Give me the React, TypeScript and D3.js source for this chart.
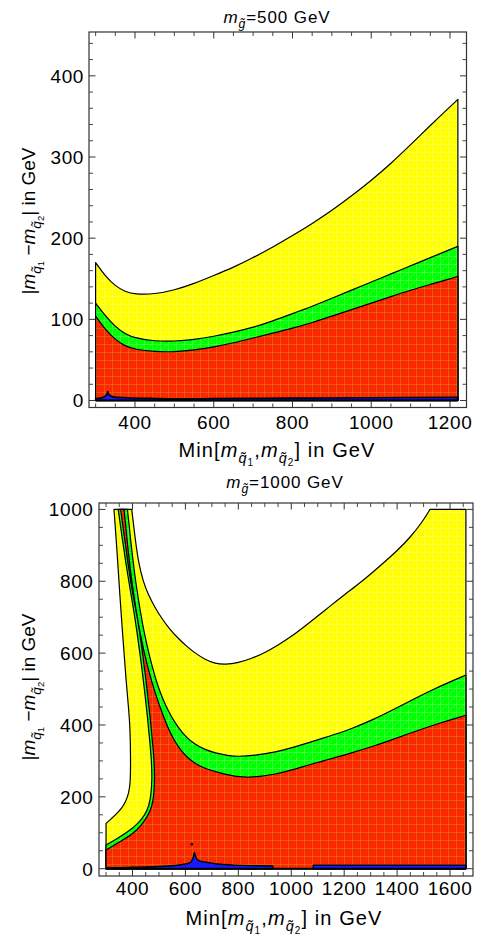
import React from 'react';
import * as d3 from 'd3';

const FONT = "'Liberation Sans', Arial, Helvetica, sans-serif";

// ---------------- Panel 1 : m_gluino = 500 GeV ----------------
const p1TitleValue = '=500 GeV';
const p1X = [300, 325, 350, 375, 400, 450, 500, 550, 600, 650, 700, 750, 800, 850, 900, 950, 1000, 1050, 1100, 1150, 1200, 1220];
const p1Yellow = [170, 153, 141, 134, 131, 131, 136, 144, 154, 164, 176, 189, 203, 218, 234, 252, 271, 292, 315, 339, 362, 371];
const p1Green = [120, 104, 91, 82, 77, 73, 73, 75, 79, 84, 90, 98, 107, 116, 126, 136, 146, 156, 166, 176, 186, 190];
const p1Red = [104, 87, 75, 67, 63, 60, 60, 62, 66, 71, 77, 83, 89, 96, 104, 112, 120, 128, 136, 143, 150, 153];
const p1BlueX = [300, 320, 328, 331, 334, 345, 380, 450, 500, 600, 800, 1000, 1220];
const p1BlueV = [2.5, 4, 7, 11, 7, 4.5, 3.5, 2.5, 2, 2.5, 3, 3.5, 4];
const p1XTicks = [400, 600, 800, 1000, 1200];
const p1YTicks = [0, 100, 200, 300, 400];

// ---------------- Panel 2 : m_gluino = 1000 GeV ----------------
const p2TitleValue = '=1000 GeV';
const p2XMin = 300;
const p2XMax = 1660;
const p2VMax = 1000;
// outer-left yellow boundary (bottom -> top)
const p2YellowLeftX = [300, 321, 340, 359, 374, 386, 392, 393, 391, 386, 376, 364, 352, 342, 330];
const p2YellowLeftV = [126, 140, 153, 168, 186, 210, 240, 300, 391, 440, 520, 640, 762, 880, 1000];
// upper yellow boundary (U-shaped, left -> right)
const p2YellowUX = [397, 410, 422, 440, 460, 485, 510, 540, 573, 600, 636, 675, 712, 750, 800, 850, 900, 950, 1000, 1050, 1100, 1150, 1200, 1250, 1300, 1350, 1400, 1450, 1500, 1524];
const p2YellowUV = [1000, 920, 854, 800, 762, 727, 697, 667, 641, 622, 600, 582, 571, 568, 573, 585, 601, 622, 646, 674, 703, 733, 762, 790, 820, 852, 885, 922, 970, 1000];
// green left boundary (bottom -> top)
const p2GreenLeftX = [300, 340, 384, 420, 447, 462, 470, 474, 472, 466, 457, 445, 430, 415, 400, 388, 375, 361, 346];
const p2GreenLeftV = [66, 83, 103, 125, 149, 175, 205, 250, 298, 350, 420, 500, 590, 670, 740, 790, 850, 920, 1000];
// green upper-right boundary (top -> right)
const p2GreenRightX = [381, 395, 408, 422, 438, 455, 475, 497, 520, 545, 573, 600, 636, 675, 712, 760, 800, 860, 945, 1000, 1071, 1130, 1184, 1222, 1310, 1370, 1436, 1537, 1660];
const p2GreenRightV = [1000, 900, 820, 750, 680, 620, 560, 505, 462, 425, 393, 368, 346, 331, 322, 315, 312, 315, 325, 336, 352, 366, 378, 388, 415, 437, 462, 500, 539];
// red left boundary (bottom -> top)
const p2RedLeftX = [300, 340, 397, 430, 460, 474, 481, 484, 482, 476, 467, 455, 440, 425, 410, 397, 383, 370, 355];
const p2RedLeftV = [52, 70, 94, 117, 149, 175, 205, 250, 298, 350, 420, 500, 590, 670, 730, 780, 850, 920, 1000];
// red upper-right boundary (top -> right)
const p2RedRightX = [368, 380, 392, 405, 420, 437, 456, 475, 492, 510, 540, 573, 600, 636, 675, 712, 760, 819, 880, 945, 1000, 1071, 1130, 1184, 1222, 1310, 1370, 1436, 1562, 1660];
const p2RedRightV = [1000, 910, 830, 760, 690, 625, 565, 515, 475, 437, 380, 338, 314, 292, 279, 270, 261, 254, 256, 264, 274, 290, 302, 313, 321, 341, 356, 374, 406, 427];
// blue strips
const p2Blue1X = [300, 340, 400, 500, 560, 600, 620, 628, 634, 638, 645, 660, 680, 720, 780, 850, 930];
const p2Blue1V = [3, 3, 4, 6, 9, 13, 18, 28, 45, 35, 25, 20, 18, 13, 10, 8.5, 7.5];
const p2Blue2X = [1083, 1660];
const p2Blue2V = [10, 10];
const p2Dot: [number, number] = [624, 68];
const p2XTicks = [400, 600, 800, 1000, 1200, 1400, 1600];
const p2YTicks = [0, 200, 400, 600, 800, 1000];

type Pt = [number, number];
const zip = (xs: number[], vs: number[]): Pt[] => xs.map((x, i) => [x, vs[i]]);

type Scale = d3.ScaleLinear<number, number>;
interface Part { pts: Pt[]; curve?: 'basis' | 'catmull' }

function mkPath(x: Scale, y: Scale, parts: Part[]): string {
  let s = '';
  parts.forEach((p, i) => {
    const curve =
      p.curve === 'basis' ? d3.curveBasis : p.curve === 'catmull' ? d3.curveCatmullRom.alpha(0.5) : d3.curveLinear;
    const gen = d3
      .line<Pt>()
      .x((d) => x(d[0]))
      .y((d) => y(d[1]))
      .curve(curve);
    let str = gen(p.pts) || '';
    if (i > 0) str = 'L' + str.slice(1);
    s += str;
  });
  return s + 'Z';
}

const mq = (n: string, F: number, key: string) => [
  <tspan key={key + 'm'} fontStyle="italic">m</tspan>,
  <tspan key={key + 'q'} fontStyle="italic" fontSize={F * 0.72} dy={F * 0.3}>q̃</tspan>,
  <tspan key={key + 'n'} fontSize={F * 0.5} dy={F * 0.15}>{n}</tspan>,
];

function XLabel({ x, y, F }: { x: number; y: number; F: number }) {
  return (
    <text x={x} y={y} textAnchor="middle" fontFamily={FONT} fontSize={F} letterSpacing={1.1} fill="#000">
      <tspan>Min[</tspan>
      {mq('1', F, 'a')}
      <tspan dy={-F * 0.45}>,</tspan>
      {mq('2', F, 'b')}
      <tspan dy={-F * 0.45}>] in GeV</tspan>
    </text>
  );
}

function YLabel({ x, y, F }: { x: number; y: number; F: number }) {
  return (
    <text transform={`translate(${x},${y}) rotate(-90)`} textAnchor="middle" fontFamily={FONT} fontSize={F} fill="#000">
      <tspan>|</tspan>
      {mq('1', F, 'a')}
      <tspan dy={-F * 0.45}> −</tspan>
      {mq('2', F, 'b')}
      <tspan dy={-F * 0.45}>| in GeV</tspan>
    </text>
  );
}

function Title({ x, y, F, value }: { x: number; y: number; F: number; value: string }) {
  return (
    <text x={x} y={y} textAnchor="middle" fontFamily={FONT} fontSize={F} letterSpacing={0.9} fill="#000">
      <tspan fontStyle="italic">m</tspan>
      <tspan fontStyle="italic" fontSize={F * 0.72} dy={F * 0.3}>g̃</tspan>
      <tspan dy={-F * 0.3}>{value}</tspan>
    </text>
  );
}

interface Region { d: string; fill: string; sw?: number }

interface PanelProps {
  box: { l: number; r: number; t: number; b: number };
  xDom: [number, number];
  yDom: [number, number];
  xTicks: number[];
  yTicks: number[];
  xMinor: number;
  yMinor: number;
  regions: (x: Scale, y: Scale) => Region[];
  extra?: (x: Scale, y: Scale) => React.ReactNode;
  title: string;
  titlePos: [number, number];
  xLabelPos: [number, number];
  yLabelPos: [number, number];
  xTickLabelY: number;
  yTickLabelX: number;
}

function Panel(p: PanelProps) {
  const { box } = p;
  const x = d3.scaleLinear().domain(p.xDom).range([box.l, box.r]);
  const y = d3.scaleLinear().domain(p.yDom).range([box.b, box.t]);
  const minorX = d3.range(Math.ceil(p.xDom[0] / p.xMinor) * p.xMinor, p.xDom[1], p.xMinor).filter((v) => !p.xTicks.includes(v));
  const minorY = d3.range(Math.ceil(p.yDom[0] / p.yMinor) * p.yMinor, p.yDom[1], p.yMinor).filter((v) => !p.yTicks.includes(v));
  const maj = 6.5;
  const mnr = 4;
  const tickColor = '#333';
  const regs = p.regions(x, y);
  const clipId = 'clip' + Math.round(box.t);
  return (
    <g>
      <clipPath id={clipId}>
        <rect x={box.l} y={box.t} width={box.r - box.l} height={box.b - box.t} />
      </clipPath>
      <g clipPath={`url(#${clipId})`}>
        {regs.map((r, i) => (
          <path key={i} d={r.d} fill={r.fill} stroke="#000" strokeWidth={r.sw ?? 1.2} strokeLinejoin="round" />
        ))}
        {p.extra ? p.extra(x, y) : null}
      </g>
      <rect x={box.l} y={box.t} width={box.r - box.l} height={box.b - box.t} fill="none" stroke={tickColor} strokeWidth={1.2} />
      {p.xTicks.map((v) => (
        <g key={'xt' + v}>
          <line x1={x(v)} x2={x(v)} y1={box.b} y2={box.b - maj} stroke={tickColor} strokeWidth={1} />
          <line x1={x(v)} x2={x(v)} y1={box.t} y2={box.t + maj} stroke={tickColor} strokeWidth={1} />
          <text x={x(v)} y={p.xTickLabelY} textAnchor="middle" fontFamily={FONT} fontSize={19} letterSpacing={0.6} fill="#000">{v}</text>
        </g>
      ))}
      {minorX.map((v) => (
        <g key={'xm' + v}>
          <line x1={x(v)} x2={x(v)} y1={box.b} y2={box.b - mnr} stroke={tickColor} strokeWidth={0.9} />
          <line x1={x(v)} x2={x(v)} y1={box.t} y2={box.t + mnr} stroke={tickColor} strokeWidth={0.9} />
        </g>
      ))}
      {p.yTicks.map((v) => (
        <g key={'yt' + v}>
          <line x1={box.l} x2={box.l + maj} y1={y(v)} y2={y(v)} stroke={tickColor} strokeWidth={1} />
          <line x1={box.r} x2={box.r - maj} y1={y(v)} y2={y(v)} stroke={tickColor} strokeWidth={1} />
          <text x={p.yTickLabelX} y={y(v) + 6.8} textAnchor="end" fontFamily={FONT} fontSize={19} letterSpacing={0.6} fill="#000">{v}</text>
        </g>
      ))}
      {minorY.map((v) => (
        <g key={'ym' + v}>
          <line x1={box.l} x2={box.l + mnr} y1={y(v)} y2={y(v)} stroke={tickColor} strokeWidth={0.9} />
          <line x1={box.r} x2={box.r - mnr} y1={y(v)} y2={y(v)} stroke={tickColor} strokeWidth={0.9} />
        </g>
      ))}
      <Title x={p.titlePos[0]} y={p.titlePos[1]} F={17} value={p.title} />
      <XLabel x={p.xLabelPos[0]} y={p.xLabelPos[1]} F={20} />
      <YLabel x={p.yLabelPos[0]} y={p.yLabelPos[1]} F={19} />
    </g>
  );
}

function Patterns() {
  return (
    <defs>
      <pattern id="pY" width="8" height="8" patternUnits="userSpaceOnUse">
        <rect width="8" height="8" fill="#ffff00" />
        <path d="M0.5 0V8M0 0.5H8" stroke="#ffffff" strokeOpacity={0.4} strokeWidth={0.6} />
        <path d="M0 8L8 0" stroke="#ffffff" strokeOpacity={0.25} strokeWidth={0.6} />
      </pattern>
      <pattern id="pG" width="8" height="8" patternUnits="userSpaceOnUse">
        <rect width="8" height="8" fill="#00ff00" />
        <path d="M0.5 0V8M0 0.5H8" stroke="#b0ffb0" strokeOpacity={0.5} strokeWidth={0.6} />
        <path d="M0 8L8 0" stroke="#b0ffb0" strokeOpacity={0.3} strokeWidth={0.6} />
      </pattern>
      <pattern id="pR" width="8" height="8" patternUnits="userSpaceOnUse">
        <rect width="8" height="8" fill="#ff2400" />
        <path d="M0.5 0V8M0 0.5H8" stroke="#c88a1e" strokeOpacity={0.75} strokeWidth={0.7} />
        <path d="M0 8L8 0" stroke="#e06a10" strokeOpacity={0.45} strokeWidth={0.6} />
      </pattern>
    </defs>
  );
}

export default function App() {
  const p1Regions = (x: Scale, y: Scale): Region[] => {
    const x0 = p1X[0];
    const x1 = p1X[p1X.length - 1];
    const band = (vals: number[]) =>
      mkPath(x, y, [
        { pts: [[x0, 0]] },
        { pts: zip(p1X, vals), curve: 'basis' },
        { pts: [[x1, 0]] },
      ]);
    return [
      { d: band(p1Yellow), fill: 'url(#pY)' },
      { d: band(p1Green), fill: 'url(#pG)' },
      { d: band(p1Red), fill: 'url(#pR)' },
      {
        d: mkPath(x, y, [{ pts: [[x0, 0]] }, { pts: zip(p1BlueX, p1BlueV), curve: 'catmull' }, { pts: [[x1, 0]] }]),
        fill: '#1a1aff',
        sw: 1.6,
      },
    ];
  };

  const p2Regions = (x: Scale, y: Scale): Region[] => {
    return [
      {
        d: mkPath(x, y, [
          { pts: [[p2XMin, 0]] },
          { pts: zip(p2YellowLeftX, p2YellowLeftV), curve: 'basis' },
          { pts: zip(p2YellowUX, p2YellowUV), curve: 'basis' },
          { pts: [[p2XMax, p2VMax], [p2XMax, 0]] },
        ]),
        fill: 'url(#pY)',
      },
      {
        d: mkPath(x, y, [
          { pts: [[p2XMin, 0]] },
          { pts: zip(p2GreenLeftX, p2GreenLeftV), curve: 'basis' },
          { pts: zip(p2GreenRightX, p2GreenRightV), curve: 'basis' },
          { pts: [[p2XMax, 0]] },
        ]),
        fill: 'url(#pG)',
      },
      {
        d: mkPath(x, y, [
          { pts: [[p2XMin, 0]] },
          { pts: zip(p2RedLeftX, p2RedLeftV), curve: 'basis' },
          { pts: zip(p2RedRightX, p2RedRightV), curve: 'basis' },
          { pts: [[p2XMax, 0]] },
        ]),
        fill: 'url(#pR)',
      },
      {
        d: mkPath(x, y, [
          { pts: [[p2XMin, 0]] },
          { pts: zip(p2Blue1X, p2Blue1V), curve: 'catmull' },
          { pts: [[p2Blue1X[p2Blue1X.length - 1], 0]] },
        ]),
        fill: '#1a1aff',
        sw: 1.4,
      },
      {
        d: mkPath(x, y, [
          { pts: [[p2Blue2X[0], 0]] },
          { pts: zip(p2Blue2X, p2Blue2V) },
          { pts: [[p2Blue2X[1], 0]] },
        ]),
        fill: '#1a1aff',
        sw: 1.4,
      },
    ];
  };

  const p2Extra = (x: Scale, y: Scale) => (
    <g>
      <line x1={x(p2XMin)} x2={x(p2XMax)} y1={y(0)} y2={y(0)} stroke="#000" strokeWidth={2} />
      <rect x={x(p2Dot[0]) - 1.2} y={y(p2Dot[1]) - 1.2} width={2.4} height={2.4} fill="#000" />
    </g>
  );
  const p1Extra = (x: Scale, y: Scale) => (
    <line x1={x(p1X[0])} x2={x(p1X[p1X.length - 1])} y1={y(0)} y2={y(0)} stroke="#000" strokeWidth={2} />
  );

  return (
    <svg width={477} height={937} style={{ position: 'absolute', left: 0, top: 0, background: '#fff' }}>
      <Patterns />
      <rect width={477} height={937} fill="#fff" />
      <Panel
        box={{ l: 89, r: 466.5, t: 32, b: 407.5 }}
        xDom={[283.2, 1241.9]}
        yDom={[-8.6, 454]}
        xTicks={p1XTicks}
        yTicks={p1YTicks}
        xMinor={50}
        yMinor={20}
        regions={p1Regions}
        extra={p1Extra}
        title={p1TitleValue}
        titlePos={[277, 23]}
        xLabelPos={[277, 456.5]}
        yLabelPos={[35, 221]}
        xTickLabelY={428.5}
        yTickLabelX={84}
      />
      <Panel
        box={{ l: 99, r: 473, t: 503, b: 876 }}
        xDom={[273.4, 1686.8]}
        yDom={[-20.3, 1017.8]}
        xTicks={p2XTicks}
        yTicks={p2YTicks}
        xMinor={50}
        yMinor={50}
        regions={p2Regions}
        extra={p2Extra}
        title={p2TitleValue}
        titlePos={[285, 488]}
        xLabelPos={[284, 925]}
        yLabelPos={[35, 687]}
        xTickLabelY={895}
        yTickLabelX={93.5}
      />
    </svg>
  );
}
